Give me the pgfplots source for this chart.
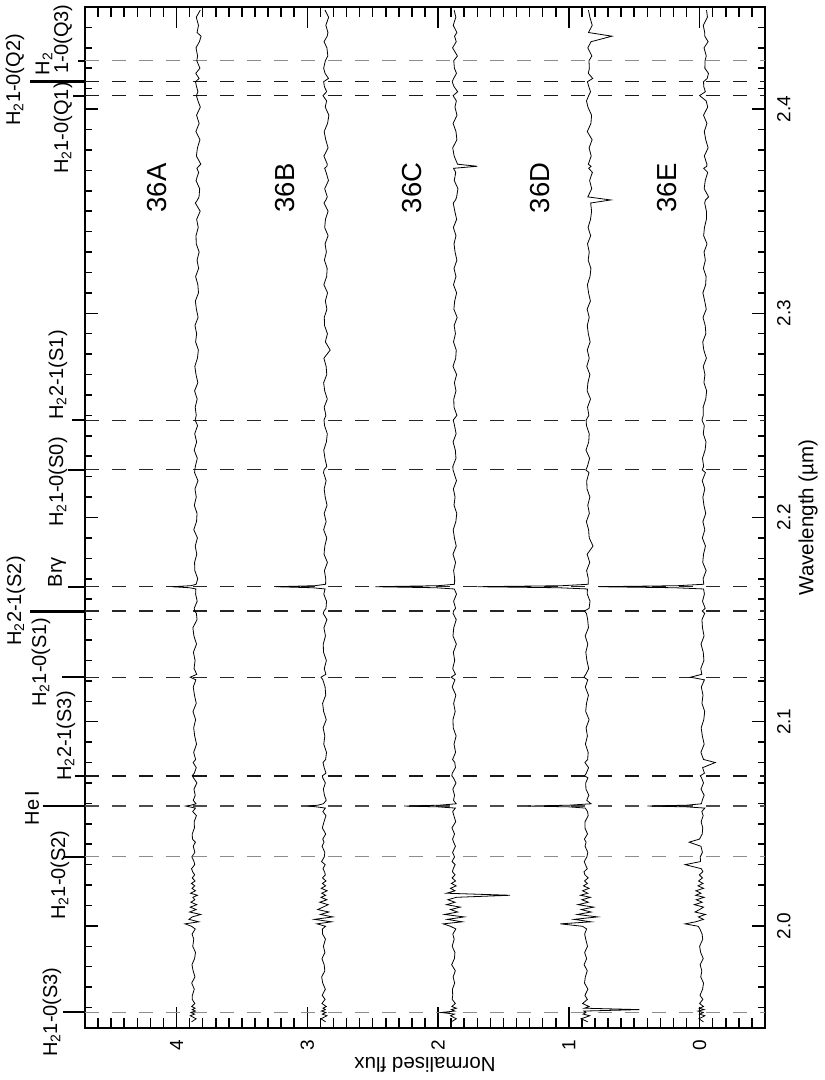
\documentclass[border=0pt]{standalone}
\usepackage{fontspec}
\setmainfont{Liberation Sans}
\usepackage{pgfplots}
\usepackage{pgfplotstable}
\pgfplotsset{compat=1.18}

\pgfplotstableread{
w A B C D E
1.9530 3.885 2.860 1.900 0.855 -0.030
1.9545 3.850 2.895 1.860 0.905 0.005
1.9560 3.895 2.850 1.905 0.840 -0.040
1.9568 3.862 2.885 1.875 0.890 0.000
1.9576 3.890 2.858 1.975 0.870 -0.028
1.9583 3.855 2.892 1.872 0.885 0.012
1.9590 3.880 2.862 1.898 0.460 -0.035
1.9597 3.858 2.880 1.860 0.880 0.002
1.9605 3.884 2.855 1.895 0.845 -0.030
1.9620 3.860 2.888 1.868 0.895 0.000
1.9640 3.880 2.864 1.892 0.858 -0.025
1.9660 3.879 2.886 1.888 0.877 -0.003
1.9690 3.864 2.862 1.890 0.854 -0.023
1.9720 3.884 2.882 1.873 0.880 -0.030
1.9750 3.859 2.890 1.885 0.874 -0.009
1.9780 3.873 2.866 1.868 0.859 -0.017
1.9810 3.882 2.871 1.896 0.883 -0.004
1.9840 3.862 2.888 1.875 0.864 -0.028
1.9870 3.855 2.865 1.871 0.879 -0.008
1.9900 3.876 2.877 1.892 0.857 0.000
1.9935 3.868 2.861 1.877 0.871 -0.024
1.9960 3.881 2.883 1.887 0.879 -0.019
1.9985 3.857 2.885 1.864 0.864 -0.002
1.9998 3.885 2.860 1.905 0.895 0.010
2.0010 3.935 2.925 1.960 1.065 0.110
2.0020 3.830 2.815 1.815 0.830 0.030
2.0032 3.905 2.945 1.930 0.960 -0.030
2.0044 3.880 2.805 1.800 0.780 0.010
2.0056 3.815 2.900 1.950 0.935 -0.045
2.0068 3.900 2.835 1.850 0.830 0.035
2.0080 3.850 2.920 1.905 0.905 0.000
2.0092 3.895 2.880 1.830 0.810 -0.030
2.0104 3.845 2.840 1.935 0.930 0.040
2.0116 3.890 2.905 1.870 0.850 -0.020
2.0128 3.860 2.850 1.925 0.900 0.025
2.0140 3.875 2.895 1.860 0.835 -0.035
2.0150 3.840 2.860 1.450 0.910 0.030
2.0160 3.893 2.890 1.935 0.855 -0.010
2.0172 3.855 2.848 1.870 0.895 0.028
2.0184 3.882 2.893 1.905 0.845 -0.030
2.0196 3.860 2.860 1.862 0.888 0.012
2.0208 3.886 2.885 1.898 0.858 -0.026
2.0220 3.858 2.857 1.866 0.880 0.008
2.0235 3.880 2.884 1.893 0.852 -0.022
2.0250 3.861 2.862 1.870 0.877 0.002
2.0265 3.877 2.868 1.890 0.884 -0.025
2.0280 3.885 2.880 1.884 0.859 -0.013
2.0300 3.861 2.863 1.869 0.873 0.110
2.0315 3.866 2.891 1.893 0.882 -0.007
2.0338 3.883 2.870 1.874 0.862 -0.005
2.0360 3.860 2.866 1.889 0.855 -0.022
2.0390 3.872 2.887 1.867 0.876 -0.010
2.0410 3.856 2.872 1.881 0.868 0.080
2.0425 3.878 2.882 1.889 0.881 0.001
2.0450 3.880 2.859 1.874 0.857 -0.020
2.0480 3.863 2.885 1.894 0.877 -0.024
2.0510 3.865 2.872 1.865 0.876 -0.012
2.0540 3.848 2.857 1.879 0.852 -0.027
2.0560 3.876 2.881 1.888 0.857 -0.017
2.0577 3.855 2.862 1.868 0.874 -0.040
2.0583 3.900 2.930 2.000 1.000 0.100
2.0587 3.930 2.995 2.260 1.310 0.400
2.0591 3.890 2.920 1.990 1.000 0.100
2.0598 3.851 2.877 1.861 0.830 -0.014
2.0615 3.872 2.855 1.882 0.863 -0.020
2.0640 3.857 2.869 1.874 0.847 -0.035
2.0670 3.867 2.877 1.887 0.869 -0.011
2.0700 3.844 2.862 1.863 0.871 -0.030
2.0725 3.870 2.882 1.883 0.854 -0.015
2.0735 3.880 2.885 1.895 0.880 -0.005
2.0748 3.864 2.857 1.891 0.866 -0.037
2.0775 3.849 2.871 1.867 0.849 -0.023
2.0800 3.873 2.880 1.872 0.877 -0.120
2.0815 3.854 2.860 1.889 0.856 -0.030
2.0850 3.869 2.853 1.866 0.852 -0.010
2.0890 3.847 2.874 1.878 0.873 -0.035
2.0930 3.861 2.866 1.862 0.858 -0.021
2.0970 3.869 2.879 1.884 0.868 -0.012
2.1010 3.854 2.855 1.886 0.845 -0.032
2.1050 3.874 2.875 1.869 0.871 -0.039
2.1090 3.849 2.883 1.881 0.865 -0.018
2.1130 3.863 2.859 1.864 0.850 -0.026
2.1170 3.872 2.864 1.892 0.874 -0.013
2.1205 3.852 2.881 1.871 0.855 -0.037
2.1218 3.895 2.895 1.900 0.885 0.070
2.1232 3.845 2.858 1.867 0.870 -0.017
2.1260 3.866 2.870 1.888 0.848 -0.009
2.1300 3.858 2.854 1.873 0.862 -0.033
2.1340 3.871 2.876 1.883 0.870 -0.028
2.1380 3.847 2.878 1.860 0.855 -0.011
2.1420 3.867 2.861 1.886 0.875 -0.034
2.1460 3.875 2.873 1.880 0.850 -0.022
2.1500 3.843 2.850 1.861 0.856 -0.018
2.1530 3.848 2.878 1.885 0.865 -0.039
2.1542 3.860 2.872 1.882 0.880 -0.020
2.1555 3.865 2.857 1.866 0.845 -0.043
2.1590 3.842 2.853 1.881 0.838 -0.022
2.1625 3.854 2.874 1.859 0.859 -0.037
2.1650 3.852 2.864 1.876 0.858 -0.030
2.1656 3.900 2.960 2.020 1.080 0.190
2.1661 4.035 3.240 2.480 1.700 0.770
2.1666 3.890 2.940 2.000 1.050 0.170
2.1673 3.850 2.860 1.874 0.852 -0.032
2.1700 3.838 2.859 1.873 0.851 -0.027
2.1740 3.860 2.869 1.881 0.864 -0.050
2.1780 3.862 2.846 1.866 0.840 -0.024
2.1820 3.845 2.872 1.886 0.860 -0.030
2.1860 3.857 2.866 1.861 0.815 -0.045
2.1900 3.840 2.851 1.875 0.844 -0.021
2.1940 3.868 2.875 1.884 0.849 -0.040
2.1980 3.847 2.856 1.864 0.866 -0.025
2.2020 3.843 2.871 1.857 0.843 -0.047
2.2060 3.864 2.849 1.878 0.855 -0.033
2.2100 3.849 2.863 1.870 0.839 -0.025
2.2140 3.859 2.871 1.883 0.861 -0.040
2.2180 3.836 2.856 1.859 0.863 -0.020
2.2220 3.862 2.876 1.879 0.846 -0.045
2.2233 3.860 2.872 1.886 0.870 -0.020
2.2250 3.856 2.851 1.887 0.858 -0.031
2.2290 3.841 2.865 1.863 0.841 -0.022
2.2330 3.865 2.874 1.868 0.869 -0.042
2.2370 3.846 2.854 1.885 0.848 -0.049
2.2410 3.861 2.847 1.862 0.844 -0.028
2.2450 3.839 2.868 1.874 0.865 -0.036
2.2477 3.858 2.872 1.884 0.868 -0.018
2.2500 3.849 2.858 1.856 0.847 -0.028
2.2540 3.857 2.871 1.878 0.857 -0.027
2.2580 3.842 2.847 1.880 0.834 -0.047
2.2620 3.862 2.867 1.863 0.860 -0.054
2.2660 3.837 2.875 1.875 0.854 -0.033
2.2700 3.851 2.851 1.858 0.839 -0.041
2.2740 3.860 2.856 1.886 0.863 -0.028
2.2780 3.840 2.873 1.865 0.844 -0.052
2.2820 3.833 2.825 1.861 0.859 -0.032
2.2860 3.854 2.862 1.882 0.837 -0.024
2.2900 3.846 2.846 1.867 0.851 -0.048
2.2940 3.859 2.868 1.877 0.859 -0.043
2.2980 3.835 2.870 1.854 0.844 -0.026
2.3020 3.848 2.850 1.879 0.860 -0.051
2.3060 3.856 2.862 1.873 0.835 -0.039
2.3100 3.832 2.845 1.858 0.849 -0.025
2.3140 3.837 2.873 1.882 0.858 -0.046
2.3180 3.854 2.852 1.863 0.838 -0.050
2.3220 3.831 2.848 1.878 0.831 -0.029
2.3260 3.843 2.869 1.856 0.852 -0.044
2.3300 3.827 2.854 1.870 0.844 -0.034
2.3340 3.849 2.864 1.878 0.857 -0.057
2.3380 3.851 2.841 1.863 0.833 -0.031
2.3420 3.834 2.867 1.883 0.853 -0.037
2.3460 3.846 2.861 1.858 0.834 -0.052
2.3500 3.819 2.841 1.872 0.826 -0.052
2.3540 3.856 2.872 1.884 0.833 -0.039
2.3555 3.840 2.858 1.866 0.680 -0.045
2.3570 3.828 2.847 1.858 0.855 -0.069
2.3610 3.823 2.867 1.848 0.825 -0.035
2.3650 3.851 2.838 1.876 0.841 -0.043
2.3690 3.831 2.856 1.865 0.820 -0.062
2.3710 3.844 2.867 1.882 0.848 -0.031
2.3720 3.830 2.850 1.700 0.830 -0.055
2.3730 3.814 2.847 1.851 0.851 -0.056
2.3770 3.848 2.873 1.877 0.829 -0.036
2.3810 3.840 2.841 1.888 0.845 -0.065
2.3850 3.821 2.859 1.856 0.822 -0.047
2.3890 3.852 2.871 1.863 0.859 -0.036
2.3930 3.827 2.845 1.885 0.831 -0.056
2.3970 3.847 2.835 1.855 0.826 -0.030
2.4010 3.818 2.863 1.871 0.854 -0.062
2.4040 3.836 2.852 1.860 0.865 -0.050
2.4066 3.848 2.880 1.885 0.848 0.000
2.4085 3.836 2.852 1.850 0.834 -0.044
2.4110 3.847 2.869 1.878 0.847 -0.032
2.4134 3.855 2.875 1.892 0.858 -0.030
2.4150 3.827 2.838 1.881 0.817 -0.058
2.4175 3.853 2.864 1.859 0.851 -0.068
2.4200 3.821 2.875 1.875 0.843 -0.040
2.4237 3.845 2.862 1.880 0.846 -0.042
2.4260 3.839 2.843 1.852 0.824 -0.051
2.4300 3.851 2.850 1.889 0.855 -0.034
2.4330 3.825 2.872 1.861 0.830 -0.065
2.4357 3.812 2.848 1.874 0.670 -0.040
2.4375 3.843 2.842 1.856 0.850 -0.039
2.4410 3.832 2.858 1.884 0.821 -0.028
2.4450 3.849 2.837 1.864 0.839 -0.060
2.4485 3.818 2.865 1.877 0.850 -0.053
}\spec

\newcommand\lblfont{\fontsize{20}{22}\selectfont}
\newcommand\Htwo{H\textsubscript{2}}

\begin{document}
\begin{tikzpicture}
\begin{axis}[
  scale only axis, width=680pt, height=1021pt,
  at={(0,0)}, anchor=south west,
  x dir=reverse, xmin=-0.5, xmax=4.7, ymin=1.95, ymax=2.45,
  xtick={0,1,2,3,4},
  minor xtick={-0.5,-0.4,...,4.7},
  ytick={2.0,2.1,2.2,2.3,2.4},
  minor ytick={1.95,1.96,...,2.45},
  tick pos=both, tick align=inside,
  yticklabel pos=right,
  x tick label style={rotate=90, anchor=east, inner sep=0pt},
  xticklabel shift=12pt,
  y tick label style={rotate=90, anchor=north, inner sep=0pt,
    /pgf/number format/.cd, fixed, fixed zerofill, precision=1},
  yticklabel shift=12pt,
  /pgf/number format/assume math mode=true,
  tick label style={font=\fontsize{19}{19}\selectfont},
  axis line style={line width=2pt},
  xtick style={line width=1.5pt, black, /pgfplots/major tick length=21pt, /pgfplots/minor tick length=10pt},
  ytick style={line width=1.5pt, black, /pgfplots/major tick length=13pt, /pgfplots/minor tick length=7pt},
  clip=false,
]
% dashed line positions
\addplot[black!45, line width=1.1pt, dash pattern=on 14pt off 13pt] coordinates {(4.7,1.9576) (-0.5,1.9576)};
\addplot[black!45, line width=1.1pt, dash pattern=on 14pt off 13pt] coordinates {(4.7,2.0338) (-0.5,2.0338)};
\addplot[black!70, line width=1.1pt, dash pattern=on 14pt off 13pt] coordinates {(4.7,2.0587) (-0.5,2.0587)};
\addplot[black!90, line width=1.4pt, dash pattern=on 14pt off 13pt] coordinates {(4.7,2.0735) (-0.5,2.0735)};
\addplot[black!85, line width=1.1pt, dash pattern=on 14pt off 13pt] coordinates {(4.7,2.1218) (-0.5,2.1218)};
\addplot[black!85, line width=1.1pt, dash pattern=on 14pt off 13pt] coordinates {(4.7,2.1542) (-0.5,2.1542)};
\addplot[black!85, line width=1.1pt, dash pattern=on 14pt off 13pt] coordinates {(4.7,2.1661) (-0.5,2.1661)};
\addplot[black!85, line width=1.1pt, dash pattern=on 14pt off 13pt] coordinates {(4.7,2.2233) (-0.5,2.2233)};
\addplot[black!85, line width=1.1pt, dash pattern=on 14pt off 13pt] coordinates {(4.7,2.2477) (-0.5,2.2477)};
\addplot[black!90, line width=1.2pt, dash pattern=on 14pt off 13pt] coordinates {(4.7,2.4066) (-0.5,2.4066)};
\addplot[black!90, line width=1.2pt, dash pattern=on 14pt off 13pt] coordinates {(4.7,2.4134) (-0.5,2.4134)};
\addplot[black!45, line width=1.1pt, dash pattern=on 14pt off 13pt] coordinates {(4.7,2.4237) (-0.5,2.4237)};

% line markers outside the frame
\addplot[black, line width=2pt] coordinates {(4.7,1.9576) (4.868,1.9576)};
\addplot[black, line width=2pt] coordinates {(4.7,2.0338) (4.868,2.0338)};
\addplot[black, line width=2pt] coordinates {(4.7,2.0587) (5.021,2.0587)};
\addplot[black, line width=2pt] coordinates {(4.7,2.0735) (4.776,2.0735)};
\addplot[black, line width=2pt] coordinates {(4.7,2.1218) (4.876,2.1218)};
\addplot[black, line width=3pt] coordinates {(4.7,2.1542) (5.121,2.1542)};
\addplot[black, line width=2pt] coordinates {(4.7,2.1661) (4.830,2.1661)};
\addplot[black, line width=2pt] coordinates {(4.7,2.2233) (4.830,2.2233)};
\addplot[black, line width=2pt] coordinates {(4.7,2.2477) (4.799,2.2477)};
\addplot[black, line width=2pt] coordinates {(4.7,2.4066) (4.792,2.4066)};
\addplot[black, line width=3pt] coordinates {(4.7,2.4134) (5.121,2.4134)};
\addplot[black, line width=2pt] coordinates {(4.7,2.4237) (4.754,2.4237)};

% spectra
\addplot[black, line width=0.8pt] table[x=A, y=w] {\spec};
\addplot[black, line width=0.8pt] table[x=B, y=w] {\spec};
\addplot[black, line width=0.8pt] table[x=C, y=w] {\spec};
\addplot[black, line width=0.8pt] table[x=D, y=w] {\spec};
\addplot[black, line width=0.8pt] table[x=E, y=w] {\spec};

% line labels
\node[rotate=90, font=\lblfont] at (axis cs:4.952,1.9578) {\Htwo1-0(S3)};
\node[rotate=90, font=\lblfont] at (axis cs:4.891,2.0249) {\Htwo1-0(S2)};
\node[rotate=90, font=\lblfont] at (axis cs:5.105,2.0577) {He\,I};
\node[rotate=90, font=\lblfont] at (axis cs:4.845,2.0930) {\Htwo2-1(S3)};
\node[rotate=90, font=\lblfont] at (axis cs:5.036,2.1292) {\Htwo1-0(S1)};
\node[rotate=90, font=\lblfont] at (axis cs:5.228,2.1591) {\Htwo2-1(S2)};
\node[rotate=90, font=\lblfont] at (axis cs:4.914,2.1733) {Brγ};
\node[rotate=90, font=\lblfont] at (axis cs:4.906,2.2174) {\Htwo1-0(S0)};
\node[rotate=90, font=\lblfont] at (axis cs:4.906,2.2698) {\Htwo2-1(S1)};
\node[rotate=90, font=\lblfont] at (axis cs:4.868,2.3907) {\Htwo1-0(Q1)};
\node[rotate=90, font=\lblfont] at (axis cs:5.235,2.4143) {\Htwo1-0(Q2)};
\node[rotate=90, font=\lblfont] at (axis cs:5.014,2.4221) {\Htwo};
\node[rotate=90, font=\lblfont] at (axis cs:4.868,2.4343) {1-0(Q3)};

% spectrum labels
\node[rotate=90, font=\fontsize{27.5}{30}\selectfont] at (axis cs:4.149,2.3614) {36A};
\node[rotate=90, font=\fontsize{27.5}{30}\selectfont] at (axis cs:3.171,2.3614) {36B};
\node[rotate=90, font=\fontsize{27.5}{30}\selectfont] at (axis cs:2.199,2.3614) {36C};
\node[rotate=90, font=\fontsize{27.5}{30}\selectfont] at (axis cs:1.221,2.3614) {36D};
\node[rotate=90, font=\fontsize{27.5}{30}\selectfont] at (axis cs:0.249,2.3614) {36E};

% axis labels
\node[rotate=180, font=\fontsize{20.5}{22}\selectfont] at ([yshift=-37pt]axis cs:2.1,1.95) {Normalised flux};
\node[rotate=90, font=\fontsize{20.5}{22}\selectfont] at ([xshift=43pt]axis cs:-0.5,2.2) {Wavelength (µm)};
\end{axis}
\pgfresetboundingbox
\path ([shift={(-85pt,-52pt)}]current axis.south west) rectangle ([shift={(60pt,7pt)}]current axis.north east);
\end{tikzpicture}
\end{document}
